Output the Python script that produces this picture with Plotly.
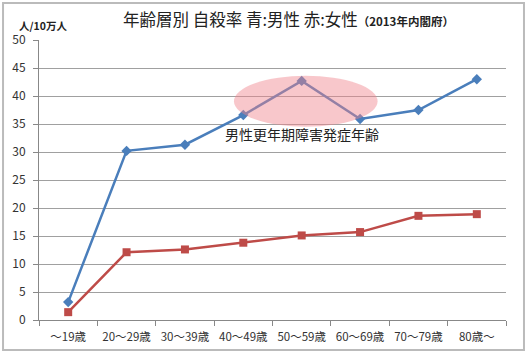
import plotly.graph_objects as go

categories = ["～19歳", "20～29歳", "30～39歳", "40～49歳", "50～59歳", "60～69歳", "70～79歳", "80歳～"]
male = [3.2, 30.2, 31.3, 36.6, 42.7, 35.9, 37.5, 43.0]
female = [1.4, 12.1, 12.6, 13.8, 15.1, 15.7, 18.6, 18.9]
y_ticks = [0, 5, 10, 15, 20, 25, 30, 35, 40, 45, 50]

FONT = "Noto Sans CJK JP"

fig = go.Figure()
fig.add_trace(go.Scatter(
    x=categories, y=male, mode="lines+markers", name="男性",
    line=dict(color="#4A7EBB", width=2.5),
    marker=dict(symbol="diamond", size=8, color="#4A7EBB"),
))
fig.add_trace(go.Scatter(
    x=categories, y=female, mode="lines+markers", name="女性",
    line=dict(color="#BE4B48", width=2.5),
    marker=dict(symbol="square", size=8, color="#BE4B48"),
))

fig.add_shape(type="circle", xref="x", yref="y", x0=2.84, x1=5.30, y0=34.5, y1=43.6,
              fillcolor="rgba(240,130,140,0.45)", line=dict(width=0), layer="above")

fig.add_shape(type="rect", xref="paper", yref="paper", x0=-0.077, x1=1.0385, y0=-0.107, y1=1.132,
              line=dict(color="#BBBBBB", width=2), fillcolor="rgba(0,0,0,0)", layer="below")

fig.add_annotation(x=4.0, y=33.3, xref="x", yref="y", text="男性更年期障害発症年齢",
                   showarrow=False, font=dict(family=FONT, size=14, color="#222"))
fig.add_annotation(x=-0.047, y=1.05, xref="paper", yref="paper", xanchor="left", yanchor="middle",
                   text="<b>人/10万人</b>", showarrow=False,
                   font=dict(family=FONT, size=10.5, color="#222"))
fig.add_annotation(x=0.176, y=1.075, xref="paper", yref="paper", xanchor="left", yanchor="middle",
                   text="年齢層別 自殺率 青:男性 赤:女性<span style='font-size:11.5px'><b>（2013年内閣府）</b></span>",
                   showarrow=False, font=dict(family=FONT, size=16.5, color="#222"))

fig.update_layout(
    width=528, height=354,
    margin=dict(l=39, r=22, t=40, b=34),
    paper_bgcolor="white", plot_bgcolor="white",
    showlegend=False,
    font=dict(family=FONT, size=12, color="#333"),
)
fig.update_xaxes(
    type="category", showline=True, linecolor="#888", linewidth=1,
    ticks="outside", tickson="boundaries", ticklen=5, tickcolor="#888",
    showgrid=False, tickfont=dict(size=11.5, family=FONT), range=[-0.5, 7.5],
    ticklabelstandoff=6, tickangle=0, automargin=False,
)
fig.update_yaxes(
    range=[0, 50], tickvals=y_ticks, showline=True, linecolor="#888", linewidth=1,
    ticks="outside", ticklen=5, tickcolor="#888",
    showgrid=True, gridcolor="#A0A0A0", gridwidth=1, zeroline=False,
    tickfont=dict(size=12, family=FONT), ticklabelstandoff=5, automargin=False,
)

fig.write_html("out.html")
